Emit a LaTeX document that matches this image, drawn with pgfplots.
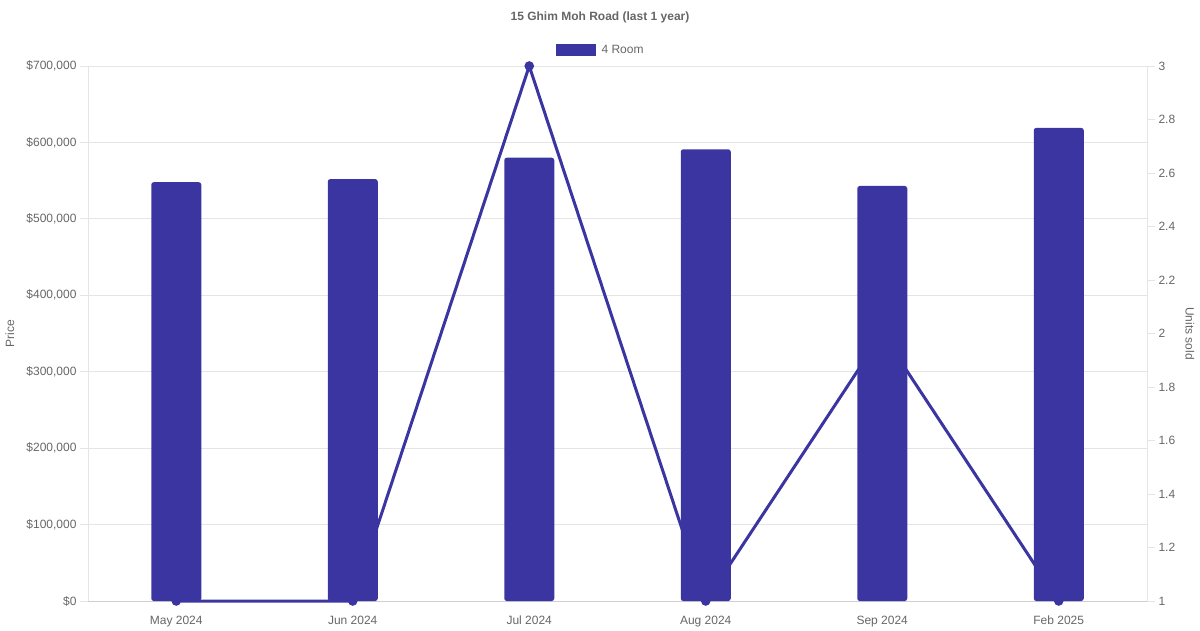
\documentclass[border=0pt]{standalone}
\usepackage{pgfplots}
\pgfplotsset{compat=1.18}
\usepackage{fontspec}
\setmainfont{Liberation Sans}
\definecolor{barc}{HTML}{3A35A0}
\definecolor{txt}{HTML}{666666}
\definecolor{gridc}{HTML}{E5E5E5}
\definecolor{basec}{HTML}{CFCFCF}

\begin{document}
\begin{tikzpicture}[x=1pt,y=1pt]
\path[use as bounding box] (0,0) rectangle (1200,630);
\pgfplotsset{
  base/.style={
    width=1059pt, height=535pt, scale only axis,
    at={(88pt,29pt)}, anchor=south west,
    xmin=-0.5, xmax=5.5,
    scaled y ticks=false,
    font=\fontsize{12}{14}\selectfont,
    tick label style={text=txt, font=\fontsize{12}{14}\selectfont},
    label style={text=txt, font=\fontsize{12}{14}\selectfont},
    tick align=outside, major tick length=8pt,
    ytick style={gridc, line width=0.8pt},
    xtick style={draw=none},
  }
}

% left price axis with grid
\begin{axis}[base,
  ymin=0, ymax=700000,
  axis y line*=left, axis x line*=bottom,
  y axis line style={gridc, line width=0.8pt},
  x axis line style={basec, line width=0.8pt},
  ymajorgrids, grid style={gridc, line width=0.8pt},
  ytick={0,100000,200000,300000,400000,500000,600000,700000},
  yticklabels={\$0,{\$100,000},{\$200,000},{\$300,000},{\$400,000},{\$500,000},{\$600,000},{\$700,000}},
  xtick={0,1,2,3,4,5},
  xticklabels={May 2024,Jun 2024,Jul 2024,Aug 2024,Sep 2024,Feb 2025},
  xticklabel style={yshift=-3pt, text height=9pt, text depth=2.5pt},
  ylabel={Price},
  ylabel style={at={(axis description cs:-0.0737,0.5)}, anchor=center},
]
\addplot[draw=none] coordinates {(0,0)};
\end{axis}

% right units axis with line
\begin{axis}[base,
  ymin=1, ymax=3,
  axis y line*=right, axis x line=none,
  y axis line style={gridc, line width=0.8pt},
  ytick={1,1.2,1.4,1.6,1.8,2,2.2,2.4,2.6,2.8,3},
  yticklabels={1,1.2,1.4,1.6,1.8,2,2.2,2.4,2.6,2.8,3},
  ylabel={Units sold},
  ylabel style={at={(axis description cs:1.0406,0.5)}, anchor=center, rotate=180},
  clip=false,
]
\addplot[barc, line width=3pt, mark=*, mark size=3.2pt, mark options={fill=barc, draw=none}]
  coordinates {(0,1) (1,1) (2,3) (3,1) (4,2) (5,1)};
\end{axis}

% bars
\begin{axis}[base,
  ymin=0, ymax=700000, hide axis,
  legend style={draw=none, fill=none, at={(0.484,1.0299)}, anchor=center,
    font=\fontsize{12}{14}\selectfont, text=txt},
  legend image code/.code={\fill[barc, sharp corners] (0pt,-6pt) rectangle (40pt,6pt); \path (44pt,0pt);},
]
\addplot[ybar, bar width=50pt, fill=barc, draw=none, rounded corners=2.5pt]
  coordinates {(0,548000) (1,552000) (2,580000) (3,591000) (4,543000) (5,619000)};
\legend{4 Room}
\end{axis}

\node[font=\bfseries\fontsize{12}{14}\selectfont, text=txt] at (600,613) {15 Ghim Moh Road (last 1 year)};
\end{tikzpicture}
\end{document}
